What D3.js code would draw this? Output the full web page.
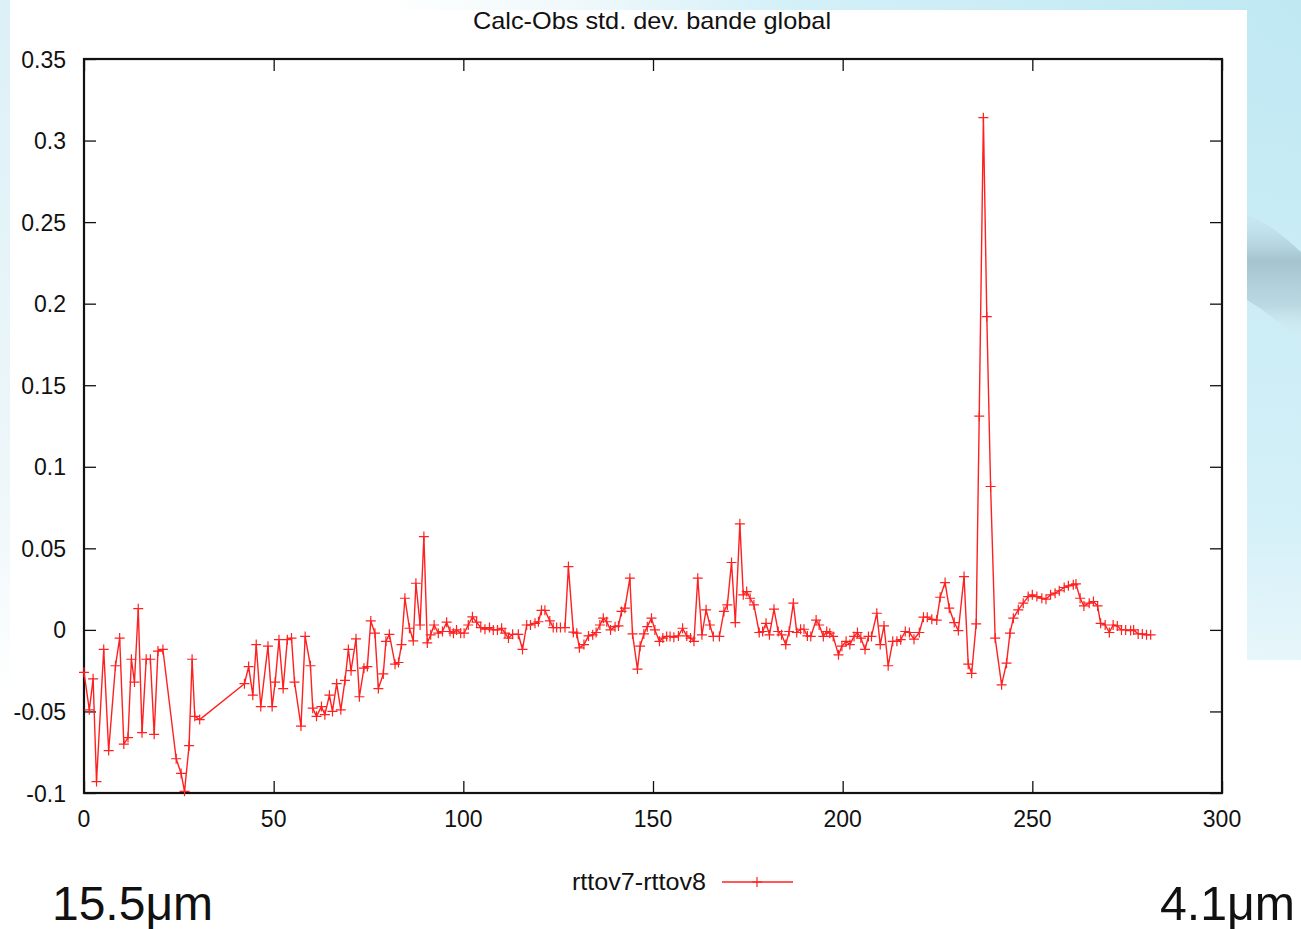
<!DOCTYPE html>
<html>
<head>
<meta charset="utf-8">
<script src="https://cdn.jsdelivr.net/npm/d3@7"></script>
<style>
  html, body { margin: 0; padding: 0; background: #ffffff; }
  svg { display: block; }
  text { font-family: "Liberation Sans", Arial, Helvetica, sans-serif; fill: #111; }
</style>
</head>
<body>
<svg id="chart" width="1301" height="929"></svg>
<script>
// Channel index along the band (15.5 µm -> 4.1 µm)
const channels = [
  0, 1.4, 2.4, 3.3, 5.2, 6.5, 8.3, 9.4, 10.5, 11.6, 12.5, 13.3, 14.3, 15.3, 16.4, 17.5, 18.5, 19.5, 20.8,
  24.3, 25.6, 26.5, 27.7, 28.5, 29.2, 30.5,
  42.3, 43.4, 44.5, 45.4, 46.6, 48.5, 49.6, 50.4, 51.4, 52.5, 53.6, 54.7, 55.5, 57.2,
  58.3, 59.7, 60.3, 61.3, 62.6, 63.5, 64.7, 65.5, 66.6, 67.7, 68.8, 69.7, 70.4, 71.7, 72.6, 73.8, 74.7,
  75.6, 76.7, 77.6, 78.9, 79.6, 80.5, 82, 82.9, 83.7, 84.6, 85.8, 86.8, 87.5, 88.6, 89.6, 90.5,
  91.4, 92.3, 93.4, 94.5, 95.6, 96.5, 97.4, 98.2, 99.3, 100.2, 101.3, 102.4, 103.5, 104.6, 105.7,
  106.9, 107.9, 109, 110.1, 111, 111.9, 113, 114.5, 115.6, 116.7, 117.7, 118.9, 119.8, 120.6, 121.5,
  122.8, 123.7, 124.6, 125.6, 126.8, 127.7, 129, 129.9, 130.6,
  131.8, 133, 134.1, 135, 136, 136.9, 137.8, 138.8, 140, 140.9, 141.7, 142.6, 143.9, 144.6, 145.9,
  146.6, 147.6, 148.5, 149.6, 150.5, 151.7, 152.6, 153.6, 154.5, 155.5, 156.7, 157.8, 158.9, 159.9,
  160.8, 161.8, 162.9, 164, 165, 165.9, 167.5, 168.7, 169.6, 170.7, 171.7, 172.9, 173.8, 174.7, 175.6,
  176.6, 178, 178.9, 179.8, 180.7, 181.9, 183, 183.9, 185, 185.9, 187, 187.9, 188.9, 189.8, 190.7,
  191.6, 193, 193.8, 194.9, 195.8, 196.6, 197.5, 198.9, 199.8, 200.9, 201.9, 203, 203.9, 204.8, 205.9,
  206.8, 207.6, 209, 209.9, 210.9, 212, 213.2, 214.3, 215.3, 216.5, 217.6, 218.8, 220.2, 221.3, 222.3,
  223.5, 224.8, 225.7, 227, 228.1, 229.4, 230.5, 232, 233.1, 234, 235.2, 236, 237.1, 238, 239,
  240.2, 241.9, 243.2, 244.1, 245, 246.3, 247.6, 248.9, 250, 251.2, 252.5, 253.6, 254.8, 256, 257.1,
  258.4, 259.5, 260.8, 261.5, 262.6, 263.6, 265, 266.1, 267.2, 268, 269.2, 270.3, 271.3, 272.4, 273.5,
  274.6, 275.9, 276.7, 277.9, 279, 280.1, 281.2
];

// Calc-Obs standard deviation difference, rttov7 minus rttov8
const diffs = [
  -0.026, -0.049, -0.030, -0.093, -0.012, -0.074, -0.022, -0.005, -0.070, -0.066, -0.018, -0.032, 0.013, -0.063, -0.018, -0.018, -0.064, -0.013, -0.012,
  -0.079, -0.088, -0.099, -0.071, -0.018, -0.053, -0.055,
  -0.033, -0.0225, -0.040, -0.009, -0.047, -0.010, -0.047, -0.032, -0.006, -0.036, -0.006, -0.005, -0.032, -0.059,
  -0.004, -0.022, -0.048, -0.053, -0.047, -0.052, -0.040, -0.050, -0.033, -0.049, -0.031, -0.012, -0.025, -0.0055, -0.041, -0.0235, -0.0225,
  0.0055, -0.002, -0.036, -0.027, -0.007, -0.0027, -0.021, -0.020, -0.009, 0.0194, 0.001, -0.0067, 0.0286, 0.003, 0.0572, -0.008,
  -0.003, 0.003, -0.002, -0.001, 0.0047, -0.001, -0.002, 0.000, -0.002, -0.002, 0.003, 0.008, 0.0047, 0.0014, 0.0004,
  0.0014, 0.000, 0.000, 0.001, -0.002, -0.005, -0.0027, -0.0027, -0.012, 0.003, 0.003, 0.004, 0.005, 0.012, 0.012,
  0.0055, 0.0014, 0.0014, 0.0014, 0.0014, 0.0388, -0.0014, -0.002, -0.011,
  -0.009, -0.0037, -0.003, -0.0016, 0.003, 0.0072, 0.005, 0.000, 0.002, 0.0024, 0.0113, 0.0133, 0.0317, -0.0025, -0.024,
  -0.010, -0.0025, 0.002, 0.0072, 0.000, -0.007, -0.005, -0.004, -0.004, -0.0045, -0.0037, 0.001, -0.0037, -0.005,
  -0.007, 0.0317, -0.003, 0.0123, 0.003, -0.004, -0.004, 0.0113, 0.0153, 0.0413, 0.0045, 0.065, 0.0215, 0.0235, 0.0194,
  0.0153, -0.0016, -0.001, 0.004, -0.003, 0.0127, -0.001, -0.003, -0.009, -0.001, 0.0164, -0.0016, 0.0004, 0.0004, -0.0037,
  -0.004, 0.006, 0.003, -0.004, -0.001, -0.002, -0.004, -0.0153, -0.010, -0.007, -0.009, -0.004, -0.0016, -0.005, -0.012,
  -0.004, -0.004, 0.0102, -0.009, 0.0024, -0.022, -0.007, -0.007, -0.006, -0.001, -0.0016, -0.0057, -0.0016, 0.0078, 0.0078,
  0.0065, 0.006, 0.020, 0.029, 0.0133, 0.0045, -0.0004, 0.0327, -0.021, -0.0266, 0.0037, 0.131, 0.314, 0.192, 0.0879,
  -0.005, -0.0337, -0.0204, -0.002, 0.0072, 0.0123, 0.0164, 0.0204, 0.0215, 0.0204, 0.0194, 0.0188, 0.0215, 0.0225, 0.024,
  0.026, 0.027, 0.0276, 0.0282, 0.0194, 0.0147, 0.0164, 0.0174, 0.0147, 0.004, 0.003, -0.0016, 0.003, 0.0024, 0.000,
  0.000, -0.0004, 0.000, -0.0025, -0.0025, -0.003, -0.003
];

const xTicks = [0, 50, 100, 150, 200, 250, 300];
const yTicks = [-0.1, -0.05, 0, 0.05, 0.1, 0.15, 0.2, 0.25, 0.3, 0.35];
const yTickLabels = ["-0.1", "-0.05", "0", "0.05", "0.1", "0.15", "0.2", "0.25", "0.3", "0.35"];
const titleText = "Calc-Obs std. dev. bande global";
const seriesName = "rttov7-rttov8";
const bandStart = "15.5\u03BCm";
const bandEnd = "4.1\u03BCm";

const W = 1301, H = 929;
const plot = { left: 84, right: 1222, top: 59, bottom: 793 };
const svg = d3.select("#chart");
const defs = svg.append("defs");

// ---- slide backdrop ----
const bg = defs.append("radialGradient").attr("id", "bgGrad")
  .attr("gradientUnits", "userSpaceOnUse")
  .attr("cx", 1301).attr("cy", 0).attr("r", 1150);
bg.append("stop").attr("offset", 0).attr("stop-color", "#bfe8f3");
bg.append("stop").attr("offset", 0.45).attr("stop-color", "#d4f0f8");
bg.append("stop").attr("offset", 0.62).attr("stop-color", "#eef8fb");
bg.append("stop").attr("offset", 0.8).attr("stop-color", "#ffffff");

const sw = defs.append("linearGradient").attr("id", "swoosh")
  .attr("x1", 0).attr("y1", 0).attr("x2", 0).attr("y2", 1);
sw.append("stop").attr("offset", 0).attr("stop-color", "#c3dde6").attr("stop-opacity", 0.2);
sw.append("stop").attr("offset", 0.35).attr("stop-color", "#9fbfcc").attr("stop-opacity", 0.9);
sw.append("stop").attr("offset", 0.7).attr("stop-color", "#b4d0da").attr("stop-opacity", 0.7);
sw.append("stop").attr("offset", 1).attr("stop-color", "#e8f4f8").attr("stop-opacity", 0);

const leftStrip = defs.append("linearGradient").attr("id", "leftStrip")
  .attr("x1", 0).attr("y1", 0).attr("x2", 0).attr("y2", 1);
leftStrip.append("stop").attr("offset", 0).attr("stop-color", "#dcf0f7");
leftStrip.append("stop").attr("offset", 0.7).attr("stop-color", "#eef7fa");
leftStrip.append("stop").attr("offset", 1).attr("stop-color", "#ffffff");

svg.append("rect").attr("width", W).attr("height", H).attr("fill", "#ffffff");
svg.append("rect").attr("width", W).attr("height", H).attr("fill", "url(#bgGrad)");
svg.append("rect").attr("x", 0).attr("y", 0).attr("width", 10).attr("height", 700).attr("fill", "url(#leftStrip)");
svg.append("path")
  .attr("d", "M1247,215 C1268,222 1288,240 1301,252 L1301,345 C1288,330 1268,312 1247,300 Z")
  .attr("fill", "url(#swoosh)");

// white sheet carrying the plot
svg.append("rect").attr("x", 10).attr("y", 10).attr("width", 1237).attr("height", 919).attr("fill", "#ffffff");
svg.append("rect").attr("x", 1247).attr("y", 660).attr("width", 54).attr("height", 269).attr("fill", "#ffffff");

// ---- scales ----
const x = d3.scaleLinear().domain([0, 300]).range([plot.left, plot.right]);
const y = d3.scaleLinear().domain([-0.1, 0.35]).range([plot.bottom, plot.top]);
const tickLen = 12;
const fmtY = d => yTickLabels[yTicks.indexOf(d)];

// ---- axes: ticks pointing inward on all four sides ----
const axG = svg.append("g");
axG.append("g").attr("transform", `translate(${plot.left},0)`)
  .call(d3.axisRight(y).tickValues(yTicks).tickSize(tickLen).tickFormat(""));
axG.append("g").attr("transform", `translate(${plot.right},0)`)
  .call(d3.axisLeft(y).tickValues(yTicks).tickSize(tickLen).tickFormat(""));
axG.append("g").attr("transform", `translate(0,${plot.bottom})`)
  .call(d3.axisTop(x).tickValues(xTicks).tickSize(tickLen).tickFormat(""));
axG.append("g").attr("transform", `translate(0,${plot.top})`)
  .call(d3.axisBottom(x).tickValues(xTicks).tickSize(tickLen).tickFormat(""));
axG.selectAll(".domain").remove();
axG.selectAll(".tick line").attr("stroke", "#111").attr("stroke-width", 1.3);

// tick labels
svg.append("g").selectAll("text").data(yTicks).join("text")
  .attr("x", 66).attr("y", d => y(d) + 8.5)
  .attr("text-anchor", "end").attr("font-size", 23)
  .text(fmtY);
svg.append("g").selectAll("text").data(xTicks).join("text")
  .attr("x", d => x(d)).attr("y", 827)
  .attr("text-anchor", "middle").attr("font-size", 23)
  .text(d => d);

// frame
svg.append("rect")
  .attr("x", plot.left).attr("y", plot.top)
  .attr("width", plot.right - plot.left).attr("height", plot.bottom - plot.top)
  .attr("fill", "none").attr("stroke", "#111").attr("stroke-width", 2.2);

// title
svg.append("text").attr("x", 652).attr("y", 29).attr("text-anchor", "middle")
  .attr("font-size", 24).attr("textLength", 358).attr("lengthAdjust", "spacingAndGlyphs")
  .text(titleText);

// ---- series ----
const pts = channels.map((c, i) => [c, diffs[i]]);
const red = "#ff2020";
const line = d3.line().x(d => x(d[0])).y(d => y(d[1]));
const series = svg.append("g");
series.append("path").datum(pts)
  .attr("d", line).attr("fill", "none")
  .attr("stroke", red).attr("stroke-width", 1.4).attr("stroke-linejoin", "round");

const cross = 5;
const crossPath = (cx, cy) => `M${cx - cross},${cy}H${cx + cross}M${cx},${cy - cross}V${cy + cross}`;
series.append("path")
  .attr("d", pts.map(d => crossPath(x(d[0]), y(d[1]))).join(""))
  .attr("fill", "none").attr("stroke", red).attr("stroke-width", 1.2);

// ---- legend ----
svg.append("text").attr("x", 706).attr("y", 890).attr("text-anchor", "end")
  .attr("font-size", 23).attr("textLength", 134).attr("lengthAdjust", "spacingAndGlyphs")
  .text(seriesName);
svg.append("line").attr("x1", 722).attr("x2", 793).attr("y1", 882).attr("y2", 882)
  .attr("stroke", red).attr("stroke-width", 1.4);
svg.append("path").attr("d", crossPath(757, 882))
  .attr("fill", "none").attr("stroke", red).attr("stroke-width", 1.2);

// ---- band end labels ----
svg.append("text").attr("x", 52).attr("y", 920).attr("font-size", 48)
  .attr("textLength", 161).attr("lengthAdjust", "spacingAndGlyphs").text(bandStart);
svg.append("text").attr("x", 1160).attr("y", 920).attr("font-size", 48)
  .attr("textLength", 135).attr("lengthAdjust", "spacingAndGlyphs").text(bandEnd);
</script>
</body>
</html>
